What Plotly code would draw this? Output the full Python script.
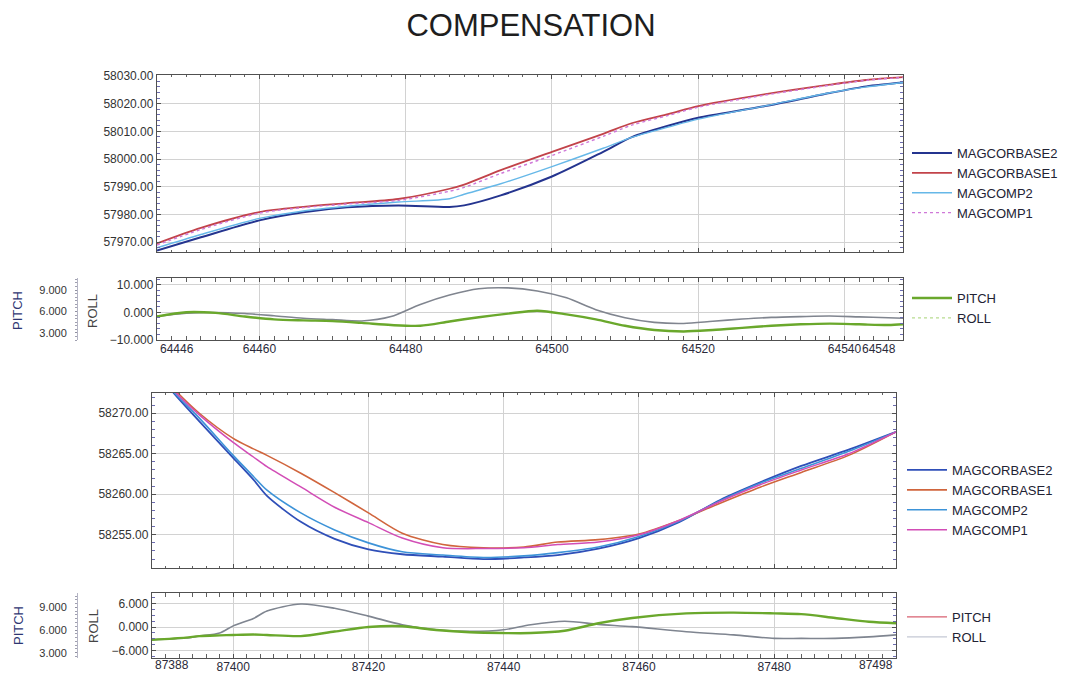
import plotly.graph_objects as go

W, H = 1070, 675

# ---------------- line A : fiducials 64446 - 64548 ----------------
FID_A = [64446, 64452, 64460, 64466, 64472, 64479, 64486, 64488, 64493, 64500,
         64507, 64511, 64516, 64520, 64529, 64538, 64543, 64548]
MAGCORBASE2_A = [57967.0, 57971.8, 57977.9, 57980.8, 57982.6, 57983.3, 57982.7, 57983.3, 57986.9, 57993.7,
                 58002.6, 58008.0, 58012.1, 58014.9, 58019.0, 58023.8, 58026.2, 58027.6]
MAGCORBASE1_A = [57969.6, 57975.2, 57980.9, 57982.8, 57984.1, 57985.6, 57989.3, 57990.8, 57996.0, 58002.6,
                 58009.1, 58013.0, 58016.3, 58019.1, 58023.3, 58026.8, 58028.5, 58029.5]
MAGCOMP2_A = [57968.0, 57972.8, 57978.6, 57981.3, 57983.0, 57984.5, 57985.7, 57987.3, 57991.1, 57997.3,
              58003.9, 58007.9, 58011.6, 58014.4, 58019.1, 58023.9, 58026.0, 58027.6]
MAGCOMP1_A = [57969.0, 57974.6, 57980.5, 57982.5, 57983.8, 57985.1, 57988.4, 57989.8, 57994.8, 58001.3,
              58008.2, 58012.3, 58015.8, 58018.7, 58023.0, 58026.6, 58028.4, 58029.4]

ATT_FID_A = [64446, 64450, 64454, 64458, 64462, 64466, 64470, 64474, 64478, 64482, 64486, 64490, 64494,
             64498, 64502, 64506, 64510, 64514, 64518, 64522, 64526, 64530, 64534, 64538, 64542, 64546, 64548]
PITCH_A = [5.3, 5.9, 5.8, 5.3, 4.9, 4.75, 4.65, 4.4, 4.1, 4.0, 4.6, 5.2, 5.7,
           6.1, 5.6, 4.9, 4.0, 3.4, 3.2, 3.4, 3.7, 4.0, 4.2, 4.3, 4.2, 4.1, 4.2]
ROLL_A = [-1.4, -0.3, 0.0, -0.4, -1.2, -2.1, -2.6, -3.1, -1.5, 2.9, 6.3, 8.6, 8.9,
          7.8, 5.3, 1.0, -1.9, -3.6, -4.0, -3.2, -2.4, -1.8, -1.5, -1.3, -1.6, -1.9, -2.1]

TICKS_A = [64446, 64460, 64480, 64500, 64520, 64540, 64548]

# ---------------- line B : fiducials 87388 - 87498 ----------------
FID_B = [87388, 87391, 87395, 87400, 87403, 87405, 87410, 87415, 87420, 87425, 87431, 87437,
         87443, 87448, 87454, 87460, 87466, 87472, 87478, 87484, 87491, 87498]
MAGCORBASE2_B = [58276.0, 58272.7, 58269.0, 58264.5, 58261.8, 58259.8, 58256.6, 58254.5, 58253.2, 58252.6, 58252.3,
                 58252.0, 58252.2, 58252.5, 58253.3, 58254.6, 58256.6, 58259.3, 58261.5, 58263.5, 58265.5, 58267.7]
MAGCORBASE1_B = [58276.0, 58273.2, 58270.0, 58266.9, 58265.6, 58264.8, 58262.6, 58260.2, 58257.7, 58255.2, 58253.8,
                 58253.4, 58253.5, 58254.1, 58254.4, 58255.1, 58256.8, 58258.9, 58260.9, 58262.7, 58264.8, 58267.7]
MAGCOMP2_B = [58276.0, 58272.8, 58269.4, 58264.8, 58262.2, 58260.5, 58257.7, 58255.6, 58254.0, 58252.9, 58252.5,
              58252.2, 58252.4, 58252.8, 58253.5, 58254.8, 58256.7, 58259.2, 58261.4, 58263.2, 58265.3, 58267.7]
MAGCOMP1_B = [58276.0, 58273.0, 58269.8, 58266.4, 58264.6, 58263.4, 58260.9, 58258.4, 58256.5, 58254.6, 58253.4,
              58253.3, 58253.4, 58253.8, 58254.1, 58255.0, 58256.8, 58259.1, 58261.2, 58263.0, 58265.0, 58267.7]

ATT_FID_B = [87388, 87393, 87395, 87398, 87400, 87403, 87405, 87410, 87415, 87420, 87425, 87430, 87435,
             87440, 87444, 87449, 87454, 87459, 87467, 87474, 87480, 87484, 87489, 87494, 87498]
PITCH_B = [4.7, 5.0, 5.2, 5.3, 5.35, 5.4, 5.35, 5.2, 5.8, 6.4, 6.5, 6.0, 5.7,
           5.6, 5.6, 5.9, 6.9, 7.6, 8.2, 8.3, 8.2, 8.1, 7.6, 7.1, 6.9]
ROLL_B = [-3.2, -2.8, -2.3, -1.5, 0.3, 2.2, 4.1, 5.9, 4.8, 2.8, 0.6, -0.7, -1.1,
          -0.7, 0.6, 1.5, 0.7, 0.1, -1.2, -2.0, -2.9, -2.9, -2.9, -2.5, -2.0]

TICKS_B = [87388, 87400, 87420, 87440, 87460, 87480, 87498]

FONT = "Liberation Sans, Arial, sans-serif"


def fx(p):
    return p / W


def fy(p):
    return 1 - p / H


def inner_text(ticks):
    # end-of-line fiducials are written separately, aligned inside the frame
    return [""] + [str(t) for t in ticks[1:-1]] + [""]


fig = go.Figure()


def line(x, y, name, color, width, xa, ya, legend, dash="solid", showlegend=True):
    fig.add_trace(go.Scatter(
        x=x, y=y, name=name, mode="lines", xaxis=xa, yaxis=ya, legend=legend,
        showlegend=showlegend,
        line=dict(color=color, width=width, dash=dash, shape="spline", smoothing=0.8),
        hoverinfo="skip"))


def legend_only(name, color, width, legend, dash="solid"):
    fig.add_trace(go.Scatter(
        x=[None], y=[None], name=name, mode="lines", legend=legend,
        line=dict(color=color, width=width, dash=dash), xaxis="x", yaxis="y"))


# panel 1 : magnetic channels, line A
line(FID_A, MAGCORBASE2_A, "MAGCORBASE2", "#24348f", 2.0, "x", "y", "legend")
line(FID_A, MAGCORBASE1_A, "MAGCORBASE1", "#c2434a", 1.8, "x", "y", "legend")
line(FID_A, MAGCOMP2_A, "MAGCOMP2", "#66b8e8", 1.4, "x", "y", "legend")
line(FID_A, MAGCOMP1_A, "MAGCOMP1", "#cf78d8", 1.4, "x", "y", "legend", dash="dot")

# panel 2 : attitude, line A
line(ATT_FID_A, ROLL_A, "ROLL", "#80858f", 1.6, "x2", "y2", "legend2", showlegend=False)
line(ATT_FID_A, PITCH_A, "PITCH", "#6aa82c", 2.4, "x2", "y3", "legend2")
legend_only("ROLL", "#b8dc90", 1.4, "legend2", dash="dot")

# panel 3 : magnetic channels, line B
line(FID_B, MAGCORBASE2_B, "MAGCORBASE2", "#2f4fb8", 1.8, "x3", "y4", "legend3")
line(FID_B, MAGCORBASE1_B, "MAGCORBASE1", "#d0653d", 1.6, "x3", "y4", "legend3")
line(FID_B, MAGCOMP2_B, "MAGCOMP2", "#3d93d8", 1.6, "x3", "y4", "legend3")
line(FID_B, MAGCOMP1_B, "MAGCOMP1", "#d24db6", 1.5, "x3", "y4", "legend3")

# panel 4 : attitude, line B
line(ATT_FID_B, ROLL_B, "ROLL", "#7f8590", 1.6, "x4", "y5", "legend4", showlegend=False)
line(ATT_FID_B, PITCH_B, "PITCH", "#6aa82c", 2.4, "x4", "y6", "legend4", showlegend=False)
legend_only("PITCH", "#d86070", 1.2, "legend4")
legend_only("ROLL", "#c4c8d4", 1.2, "legend4")

axis_base = dict(
    showline=True, linecolor="#505050", linewidth=1.3, mirror="allticks",
    ticks="inside", ticklen=4, tickcolor="#505050",
    showgrid=True, gridcolor="#d2d2d2", gridwidth=1, zeroline=False,
    tickfont=dict(family=FONT, size=11, color="#333333"),
)
minor_x = dict(ticks="inside", ticklen=2, tickcolor="#606060", dtick=2, showgrid=False)
XTICK_FONT = dict(family=FONT, size=12, color="#2a2a3a")


def xaxis(domain, rng, ticks, labels, anchor):
    d = dict(axis_base)
    d.update(domain=domain, range=rng, tickmode="array", tickvals=ticks, ticktext=inner_text(ticks),
             showticklabels=labels, anchor=anchor, minor=minor_x, ticklabelstandoff=-3,
             tickfont=XTICK_FONT)
    return d


def yaxis(domain, rng, dtick, fmt, anchor, minor_dtick, size=11):
    d = dict(axis_base)
    d.update(domain=domain, range=rng, dtick=dtick, tickformat=fmt, anchor=anchor,
             tick0=0, tickfont=dict(family=FONT, size=size, color="#333333"),
             minor=dict(ticks="inside", ticklen=3, tickcolor="#6c6cb0", dtick=minor_dtick, showgrid=False))
    return d


def pitch_axis(overlay, rng, pos):
    return dict(
        overlaying=overlay, anchor="free", position=pos, side="left", range=rng,
        tickvals=[3, 6, 9], tickformat=".3f", showgrid=False, zeroline=False,
        showline=True, linecolor="#b4b4c4", linewidth=1, ticks="outside", ticklen=2,
        tickcolor="#9090a0", tickfont=dict(family=FONT, size=11, color="#333333"),
        ticklabelstandoff=6,
        minor=dict(ticks="outside", ticklen=2, tickcolor="#a0a0b0", dtick=0.5),
    )


dx_a = [fx(157), fx(903)]
dx_b = [fx(152), fx(896)]

fig.update_layout(
    width=W, height=H,
    margin=dict(l=0, r=0, t=0, b=0, autoexpand=False),
    paper_bgcolor="white", plot_bgcolor="white",
    font=dict(family=FONT, color="#222222"),
    title=dict(text="COMPENSATION", x=fx(531), xanchor="center", y=fy(25), yanchor="middle",
               font=dict(family=FONT, size=31, color="#1e1e1e")),
    xaxis=xaxis(dx_a, [64446, 64548], TICKS_A, False, "y"),
    yaxis=yaxis([fy(252), fy(75)], [57966.5, 58030.3], 10, ".2f", "x", 2, size=12),
    xaxis2=xaxis(dx_a, [64446, 64548], TICKS_A, True, "y2"),
    yaxis2=yaxis([fy(340), fy(278)], [-10, 12.5], 10, ".3f", "x2", 2, size=12),
    yaxis3=pitch_axis("y2", [2.0, 10.7], fx(77)),
    xaxis3=xaxis(dx_b, [87388, 87498], TICKS_B, False, "y4"),
    yaxis4=yaxis([fy(568), fy(393)], [58250.9, 58272.5], 5, ".2f", "x3", 1, size=12),
    xaxis4=xaxis(dx_b, [87388, 87498], TICKS_B, True, "y5"),
    yaxis5=yaxis([fy(658), fy(593)], [-7.9, 8.7], 6, ".3f", "x4", 1.5, size=12),
    yaxis6=pitch_axis("y5", [2.3, 10.9], fx(77)),
)

# first / last fiducial labels, kept inside the frame ends
for xref, ticks, ylab, shift_r in (("x2", TICKS_A, 349, -5), ("x4", TICKS_B, 665, -1)):
    fig.add_annotation(text=str(ticks[0]), x=ticks[0], xref=xref, y=fy(ylab), yref="paper",
                       xanchor="left", yanchor="middle", xshift=1, showarrow=False, font=XTICK_FONT)
    fig.add_annotation(text=str(ticks[-1]), x=ticks[-1], xref=xref, y=fy(ylab), yref="paper",
                       xanchor="right", yanchor="middle", xshift=shift_r, showarrow=False, font=XTICK_FONT)

leg_font = dict(family=FONT, size=13, color="#222233")
common_leg = dict(xanchor="left", yanchor="top", bgcolor="rgba(0,0,0,0)", borderwidth=0,
                  font=leg_font, tracegroupgap=0, itemwidth=40)
fig.update_layout(
    legend=dict(common_leg, x=fx(907), y=fy(138)),
    legend2=dict(common_leg, x=fx(907), y=fy(283)),
    legend3=dict(common_leg, x=fx(902), y=fy(455)),
    legend4=dict(common_leg, x=fx(902), y=fy(602)),
)

# axis titles for the attitude panels
for yc in (311, 626):
    fig.add_annotation(text="PITCH", x=fx(18), y=fy(yc), xref="paper", yref="paper",
                       xanchor="center", yanchor="middle",
                       textangle=-90, showarrow=False, font=dict(family=FONT, size=13, color="#2e3672"))
    fig.add_annotation(text="ROLL", x=fx(93), y=fy(yc), xref="paper", yref="paper",
                       xanchor="center", yanchor="middle",
                       textangle=-90, showarrow=False, font=dict(family=FONT, size=13, color="#444444"))

fig.write_html("out.html")
